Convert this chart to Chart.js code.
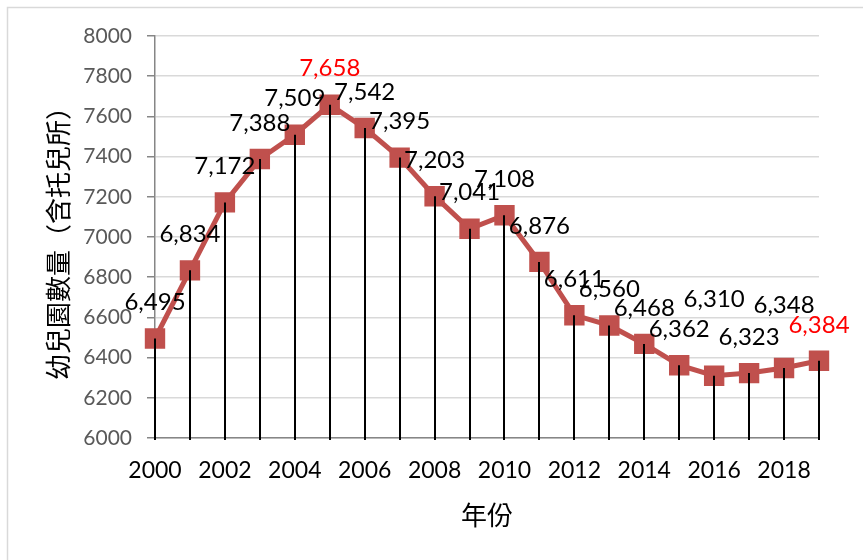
<!DOCTYPE html>
<html><head><meta charset="utf-8">
<script src="https://cdn.jsdelivr.net/npm/chart.js@4/dist/chart.umd.min.js"></script>
<style>html,body{margin:0;padding:0;background:#fff}#wrap{width:863px;height:560px;position:relative}</style>
</head><body><div id="wrap"><canvas id="c"></canvas></div>
<script>
// ---- data ----
const years = ['2000','2001','2002','2003','2004','2005','2006','2007','2008','2009',
               '2010','2011','2012','2013','2014','2015','2016','2017','2018','2019'];
const kindergartens = [6495, 6834, 7172, 7388, 7509, 7658, 7542, 7395, 7203, 7041,
                       7108, 6876, 6611, 6560, 6468, 6362, 6310, 6323, 6348, 6384];
const yTickValues = [6000, 6200, 6400, 6600, 6800, 7000, 7200, 7400, 7600, 7800, 8000];
const highlightYears = ['2005', '2019'];
const yTitle = '幼兒園數量（含托兒所）';
const xTitle = '年份';

// ---- plugins ----
const frame = {
  id: 'frame',
  beforeDraw(chart) {
    const ctx = chart.ctx;
    ctx.save();
    ctx.fillStyle = '#fff';
    ctx.fillRect(0, 0, chart.width, chart.height);
    ctx.strokeStyle = '#D9D9D9';
    ctx.lineWidth = 1.5;
    ctx.strokeRect(7.5, 7.5, chart.width + 10, chart.height + 10);
    ctx.restore();
  }
};

const dropLines = {
  id: 'dropLines',
  afterDatasetsDraw(chart) {
    const ctx = chart.ctx;
    const meta = chart.getDatasetMeta(0);
    const bottom = chart.chartArea.bottom;
    ctx.save();
    ctx.strokeStyle = '#000';
    ctx.lineWidth = 2;
    meta.data.forEach(pt => {
      ctx.beginPath();
      ctx.moveTo(Math.round(pt.x), pt.y);
      ctx.lineTo(Math.round(pt.x), bottom + 2);
      ctx.stroke();
    });
    ctx.restore();
  }
};

const valueLabels = {
  id: 'valueLabels',
  afterDatasetsDraw(chart, args, opts) {
    const ctx = chart.ctx;
    const meta = chart.getDatasetMeta(0);
    const data = chart.data.datasets[0].data;
    const labels = chart.data.labels;
    ctx.save();
    ctx.font = opts.font;
    ctx.textAlign = 'center';
    ctx.textBaseline = 'middle';
    meta.data.forEach((pt, i) => {
      const extra = (opts.extraLift && opts.extraLift[labels[i]]) || 0;
      ctx.fillStyle = highlightYears.includes(labels[i]) ? '#FF0000' : '#000';
      ctx.fillText(data[i].toLocaleString('en-US'), pt.x, pt.y - opts.lift - extra);
    });
    ctx.restore();
  }
};

new Chart(document.getElementById('c'), {
  type: 'line',
  data: {
    labels: years,
    datasets: [{
      data: kindergartens,
      borderColor: '#C0504D',
      backgroundColor: '#C0504D',
      borderWidth: 5,
      pointStyle: 'rect',
      pointRadius: 13,
      pointBorderWidth: 2,
      pointBackgroundColor: '#C0504D',
      pointBorderColor: '#C0504D',
      tension: 0
    }]
  },
  options: {
    responsive: true,
    maintainAspectRatio: false,
    animation: false,
    devicePixelRatio: 1,
    layout: { padding: { left: 0, right: 44, top: 36, bottom: 0 } },
    plugins: {
      legend: { display: false },
      tooltip: { enabled: false },
      valueLabels: { font: '24px Lato', lift: 36, extraLift: { '2016': 40, '2018': 27 } }
    },
    scales: {
      x: {
        type: 'category',
        offset: false,
        grid: { display: false, drawTicks: false },
        border: { display: true, color: '#868686', width: 1.5 },
        ticks: {
          autoSkip: false,
          maxRotation: 0,
          padding: 19,
          color: '#000',
          font: { family: 'Lato', size: 23 },
          callback: function (v, i) { return i % 2 === 0 ? this.getLabelForValue(v) : ''; }
        },
        title: {
          display: true, text: xTitle, color: '#000',
          font: { family: '"Noto Sans CJK TC"', size: 26 },
          padding: { top: 0, bottom: 29 }
        },
        afterFit(s) { s.height = 122; }
      },
      y: {
        min: yTickValues[0],
        max: yTickValues[yTickValues.length - 1],
        afterBuildTicks(s) { s.ticks = yTickValues.map(v => ({ value: v })); },
        grid: { color: '#D9D9D9', lineWidth: 1.5, tickColor: '#868686', tickLength: 8 },
        border: { display: true, color: '#868686', width: 1.5 },
        ticks: {
          padding: 15,
          color: '#595959',
          font: { family: 'Lato', size: 21 },
          callback: v => String(v)
        },
        title: {
          display: true, text: yTitle, color: '#000',
          font: { family: '"Noto Sans CJK TC"', size: 26 },
          padding: { top: 43, bottom: 0 }
        },
        afterFit(s) { s.width = 155; }
      }
    }
  },
  plugins: [frame, dropLines, valueLabels]
});
</script>
</body></html>
